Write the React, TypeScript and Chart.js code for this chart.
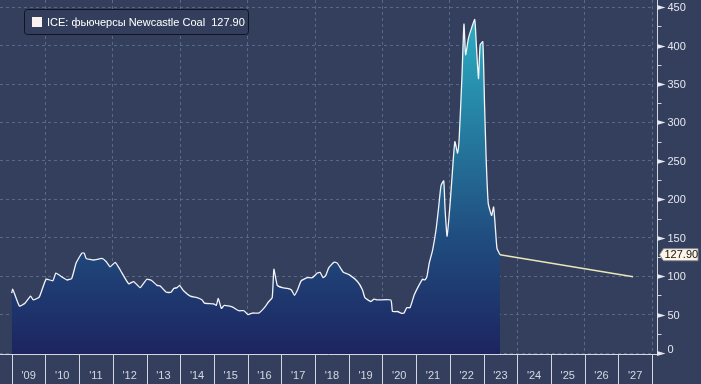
import React, { useEffect, useRef } from "react";
import { Chart, registerables } from "chart.js";

Chart.register(...registerables);

// ---- Data (decimal years, USD/t) ----
const coalYears = [
  2009.0, 2009.03, 2009.23, 2009.4, 2009.56, 2009.64, 2009.82, 2010.02, 2010.22, 2010.31,
  2010.49, 2010.64, 2010.78, 2010.91, 2011.08, 2011.15, 2011.21, 2011.43, 2011.68, 2011.8,
  2011.92, 2012.07, 2012.22, 2012.47, 2012.62, 2012.81, 2013.01, 2013.16, 2013.31, 2013.41,
  2013.59, 2013.73, 2013.81, 2013.91, 2013.98, 2014.1, 2014.3, 2014.5, 2014.65, 2014.72,
  2014.99, 2015.07, 2015.13, 2015.22, 2015.31, 2015.54, 2015.74, 2015.89, 2016.01, 2016.14,
  2016.33, 2016.48, 2016.63, 2016.73, 2016.78, 2016.88, 2017.03, 2017.18, 2017.3, 2017.39,
  2017.49, 2017.59, 2017.77, 2017.92, 2018.07, 2018.15, 2018.24, 2018.32, 2018.41, 2018.56,
  2018.66, 2018.84, 2019.01, 2019.26, 2019.41, 2019.48, 2019.66, 2019.75, 2019.85, 2020.25,
  2020.3, 2020.45, 2020.55, 2020.64, 2020.72, 2020.82, 2020.94, 2021.06, 2021.19, 2021.26,
  2021.32, 2021.39, 2021.49, 2021.59, 2021.66, 2021.74, 2021.82, 2021.86, 2021.92, 2022.01,
  2022.08, 2022.15, 2022.23, 2022.28, 2022.36, 2022.42, 2022.47, 2022.55, 2022.64, 2022.74,
  2022.78, 2022.85, 2022.9, 2022.98, 2023.03, 2023.08, 2023.14, 2023.24, 2023.3, 2023.35,
  2023.4, 2023.49,
];
const coalPrices = [
  78, 83, 61, 65, 74, 69, 73, 96, 94, 104,
  99, 95, 97, 117, 130, 130, 123, 121, 123, 119,
  112, 118, 108, 90, 93, 85, 96, 94, 88, 87,
  79, 79, 84, 85, 88, 81, 74, 72, 69, 65,
  64, 62, 71, 58, 62, 60, 55, 55, 50, 52,
  52, 58, 67, 72, 109, 88, 85, 84, 82, 75,
  83, 94, 98, 98, 104, 105, 98, 101, 111, 118,
  117, 105, 102, 93, 82, 72, 67, 70, 69, 69,
  54, 54, 52, 52, 59, 59, 75, 86, 96, 95,
  99, 117, 134, 160, 186, 218, 224, 186, 152, 195,
  238, 275, 260, 281, 359, 428, 388, 409, 422, 434,
  407, 357, 401, 405, 325, 251, 195, 179, 190, 164,
  136, 127.9,
];
const forecastYears = [2023.49, 2027.44];
const forecastPrices = [127.9, 99.2];

const yearStarts = [
  2009, 2010, 2011, 2012, 2013, 2014, 2015, 2016, 2017, 2018,
  2019, 2020, 2021, 2022, 2023, 2024, 2025, 2026, 2027,
];
const yearTickLabels = [
  "'09", "'10", "'11", "'12", "'13", "'14", "'15", "'16", "'17", "'18",
  "'19", "'20", "'21", "'22", "'23", "'24", "'25", "'26", "'27",
];
const gridYears = [2010, 2012, 2014, 2016, 2018, 2020, 2022, 2024, 2026, 2028];
const yTicks = [0, 50, 100, 150, 200, 250, 300, 350, 400, 450];
const yMinorTicks = [25, 75, 125, 175, 225, 275, 325, 375, 425];
const seriesName = "ICE: фьючерсы Newcastle Coal";
const lastValueText = "127.90";
const lastValue = 127.9;

const BG = "#333f5d";
const FONT = "11px 'Liberation Sans', Arial, sans-serif";

const decorPlugin = {
  id: "decor",
  afterDraw(chart: any) {
    const ctx = chart.ctx as CanvasRenderingContext2D;
    const xs = chart.scales.x;
    const ys = chart.scales.y;
    const ca = chart.chartArea;
    const H = chart.height;
    ctx.save();

    const axisX = Math.round(ca.right) + 5.5;
    const baseY = Math.round(ca.bottom) + 0.5;
    ctx.strokeStyle = "#d3d7e0";
    ctx.lineWidth = 1;
    // bottom axis line
    ctx.beginPath();
    ctx.moveTo(0, baseY);
    ctx.lineTo(axisX, baseY);
    ctx.stroke();
    // right axis line
    ctx.beginPath();
    ctx.moveTo(axisX, 0);
    ctx.lineTo(axisX, baseY);
    ctx.stroke();

    // minor ticks
    for (const v of yMinorTicks) {
      const y = Math.round(ys.getPixelForValue(v)) + 0.5;
      ctx.beginPath();
      ctx.moveTo(axisX, y);
      ctx.lineTo(axisX + 4, y);
      ctx.stroke();
    }
    // major ticks (arrows) + labels
    ctx.fillStyle = "#e4e7ee";
    ctx.font = FONT;
    ctx.textBaseline = "middle";
    ctx.textAlign = "left";
    for (const v of yTicks) {
      const y = Math.round(ys.getPixelForValue(v)) + 0.5;
      ctx.beginPath();
      ctx.moveTo(axisX - 0.5, y - 2.5);
      ctx.lineTo(axisX + 8, y);
      ctx.lineTo(axisX - 0.5, y + 2.5);
      ctx.closePath();
      ctx.fill();
      ctx.fillText(String(v), axisX + 10, v === 0 ? y - 4 : y);
    }

    // last value tag
    const ly = ys.getPixelForValue(lastValue);
    const tx = axisX + 2;
    ctx.beginPath();
    ctx.moveTo(tx, ly);
    ctx.lineTo(tx + 4, ly - 6);
    ctx.lineTo(698, ly - 6);
    ctx.lineTo(698, ly + 6);
    ctx.lineTo(tx + 4, ly + 6);
    ctx.closePath();
    ctx.fillStyle = "#fdf4e6";
    ctx.fill();
    ctx.strokeStyle = "#8a8f9a";
    ctx.stroke();
    ctx.fillStyle = "#111111";
    ctx.fillText(lastValueText, tx + 5, ly + 0.5);

    // bottom band separators and labels
    ctx.strokeStyle = "#d3d7e0";
    const allBounds = [...yearStarts, yearStarts[yearStarts.length - 1] + 1];
    for (const yr of allBounds) {
      const x = Math.round(xs.getPixelForValue(yr)) + 0.5;
      ctx.beginPath();
      ctx.moveTo(x, baseY);
      ctx.lineTo(x, H);
      ctx.stroke();
    }
    ctx.fillStyle = "#d4d8e1";
    ctx.textAlign = "center";
    yearStarts.forEach((yr, i) => {
      const x = xs.getPixelForValue(yr + 0.5);
      ctx.fillText(yearTickLabels[i], x, 376);
    });

    // legend box
    ctx.beginPath();
    (ctx as any).roundRect(24.5, 9.5, 224, 25, 3);
    ctx.fillStyle = "#323e5b";
    ctx.fill();
    ctx.strokeStyle = "#10141e";
    ctx.stroke();
    ctx.fillStyle = "#fbf1ef";
    ctx.fillRect(32, 17, 10, 10);
    ctx.fillStyle = "#ffffff";
    ctx.textAlign = "left";
    ctx.fillText(seriesName + "  " + lastValueText, 47, 22.5);

    ctx.restore();
  },
};

const bgPlugin = {
  id: "bg",
  beforeDraw(chart: any) {
    const ctx = chart.ctx;
    ctx.save();
    ctx.fillStyle = BG;
    ctx.fillRect(0, 0, chart.width, chart.height);
    ctx.restore();
  },
};

export default function App() {
  const ref = useRef<HTMLCanvasElement | null>(null);
  useEffect(() => {
    if (!ref.current) return;
    const gridColor = "#5a6888";
    const chart = new Chart(ref.current, {
      type: "line",
      data: {
        datasets: [
          {
            label: seriesName,
            data: coalYears.map((x, i) => ({ x, y: coalPrices[i] })),
            borderColor: "#f2f4f8",
            borderWidth: 1.3,
            pointRadius: 0,
            tension: 0.15,
            fill: "start",
            backgroundColor: (c: any) => {
              const { ctx, chartArea } = c.chart;
              if (!chartArea) return "#1f2a66";
              const g = ctx.createLinearGradient(0, chartArea.bottom, 0, 10);
              g.addColorStop(0, "#1d2460");
              g.addColorStop(0.35, "#204e80");
              g.addColorStop(1, "#2bb2c6");
              return g;
            },
          },
          {
            label: "forecast",
            data: forecastYears.map((x, i) => ({ x, y: forecastPrices[i] })),
            borderColor: "#ebe7b9",
            borderWidth: 1.5,
            pointRadius: 0,
            fill: false,
          },
        ],
      },
      options: {
        responsive: false,
        animation: false,
        devicePixelRatio: 1,
        layout: { padding: 0 },
        plugins: { legend: { display: false }, tooltip: { enabled: false } },
        scales: {
          x: {
            type: "linear",
            min: 2008.652,
            max: 2028.0,
            afterBuildTicks: (s: any) => {
              s.ticks = gridYears.map((v) => ({ value: v }));
            },
            afterFit: (s: any) => {
              s.height = 30;
            },
            ticks: { display: false },
            grid: {
              color: gridColor,
              drawTicks: false,
              lineWidth: 1,
            },
            border: { display: false, dash: [3, 3] },
          },
          y: {
            position: "right",
            min: -1.3,
            max: 459.3,
            afterBuildTicks: (s: any) => {
              s.ticks = yTicks.map((v) => ({ value: v }));
            },
            afterFit: (s: any) => {
              s.width = 49;
            },
            ticks: { display: false },
            grid: { color: gridColor, drawTicks: false, lineWidth: 1 },
            border: { display: false, dash: [3, 3] },
          },
        },
      },
      plugins: [bgPlugin, decorPlugin],
    } as any);
    return () => chart.destroy();
  }, []);
  return (
    <div style={{ position: "fixed", left: 0, top: 0, width: 701, height: 384, background: BG }}>
      <canvas ref={ref} width={701} height={384} style={{ display: "block" }} />
    </div>
  );
}
